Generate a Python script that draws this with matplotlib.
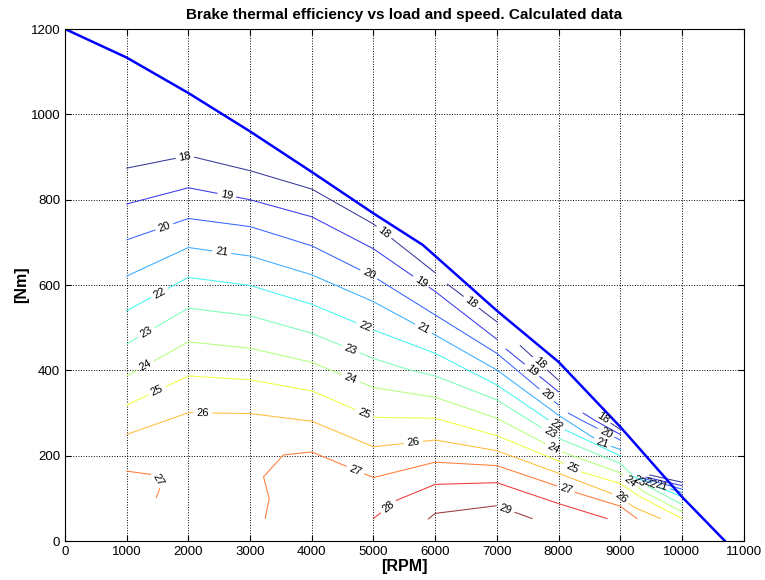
import numpy as np
import matplotlib
matplotlib.use('Agg')
import matplotlib.pyplot as plt

plt.rcParams['font.family'] = ['Liberation Sans', 'DejaVu Sans']

# full load torque curve
limit_rpm = [0, 1000, 2000, 3000, 4000, 5000, 5800, 7000, 8000, 9000, 10000, 10700]
limit_nm = [1200, 1133, 1050, 960, 865, 768, 694, 540, 420, 268, 104, 0]

# efficiency iso-lines, (rpm, Nm), one list per piece
eff_18 = [[(1000, 874), (2000, 903), (3000, 868), (4000, 825), (5000, 743), (6000, 629)],
          [(6200, 602), (7000, 514)],
          [(7380, 458), (8000, 377)],
          [(8600, 300), (9000, 262)],
          [(9480, 155), (10000, 138)]]
eff_19 = [[(1000, 790), (2000, 828), (3000, 800), (4000, 760), (5000, 685), (6000, 585), (7000, 473)],
          [(7150, 450), (8000, 350)],
          [(8400, 300), (8600, 282), (9000, 250)],
          [(9420, 150), (10000, 130)]]
eff_20 = [[(1000, 706), (2000, 756), (3000, 737), (4000, 692), (5000, 620), (6000, 530), (7000, 440), (8000, 319)],
          [(8160, 300), (8350, 285), (9000, 237)],
          [(9350, 148), (10000, 122)]]
eff_21 = [[(1000, 621), (2000, 688), (3000, 668), (4000, 624), (5000, 561), (6000, 483), (7000, 401), (8000, 295),
           (8700, 230), (9000, 215)],
          [(9300, 146), (10000, 114)]]
eff_22 = [[(1000, 540), (2000, 618), (3000, 599), (4000, 555), (5000, 495), (6000, 440), (7000, 366), (8000, 268),
           (9000, 200)],
          [(9200, 152), (10000, 104)]]
eff_23 = [[(1000, 462), (2000, 546), (3000, 528), (4000, 487), (5000, 428), (5590, 401), (6000, 387), (7000, 331),
           (8000, 241), (9000, 182), (9300, 140), (10000, 86)]]
eff_24 = [[(1000, 387), (2000, 467), (3000, 452), (4000, 419), (5000, 360), (6000, 337), (7000, 288), (8000, 212),
           (9000, 160), (9380, 116), (10000, 69)]]
eff_25 = [[(1000, 319), (2000, 387), (3000, 378), (4000, 352), (5000, 290), (6000, 288), (7000, 247), (8000, 188),
           (8350, 163), (9000, 135), (9324, 104), (10000, 53)]]
eff_26 = [[(1000, 250), (2000, 301), (3000, 299), (4000, 281), (5000, 221), (6000, 237), (7000, 212), (8000, 159),
           (9000, 104), (9215, 80), (9650, 53)]]
eff_27 = [[(1000, 164), (1460, 155), (1555, 131), (1480, 102)],
          [(3245, 53), (3310, 100), (3218, 151), (3542, 202), (4000, 209), (5000, 149), (6000, 185), (7000, 177),
           (8000, 128), (8300, 113), (9000, 82), (9270, 53)]]
eff_28 = [[(5000, 53), (5380, 96), (6000, 133), (7000, 137), (8000, 88), (8785, 53)]]
eff_29 = [[(5890, 52), (6000, 65), (7000, 83), (7570, 53)]]

levels = list(range(18, 30))
contours = dict(zip(levels, [eff_18, eff_19, eff_20, eff_21, eff_22, eff_23,
                             eff_24, eff_25, eff_26, eff_27, eff_28, eff_29]))

# where the in-line labels sit
labels = {18: [(1950, 897), (5140, 718), (6570, 557), (7675, 413), (8700, 285)],
          19: [(2620, 809), (5730, 600), (7540, 395)],
          20: [(1620, 733), (4920, 624), (7785, 338), (8756, 250)],
          21: [(2540, 676), (5785, 491), (8703, 228), (9650, 125)],
          22: [(1540, 579), (4866, 503), (7945, 268), (9480, 132)],
          23: [(1330, 487), (4620, 446), (7840, 249), (9300, 138)],
          24: [(1330, 405), (4620, 379), (7920, 217), (9150, 138)],
          25: [(1515, 346), (4840, 297), (8217, 170)],
          26: [(2235, 299), (5650, 229), (9000, 100)],
          27: [(1543, 147), (4700, 163), (8108, 117)],
          28: [(5244, 80)],
          29: [(7135, 73)]}

fig = plt.figure(figsize=(7.65, 5.8), dpi=100)
ax = fig.add_axes([0.085, 0.067, 0.887, 0.883])
ax.set_xlim(0, 11000)
ax.set_ylim(0, 1200)
ax.set_xticks(range(0, 11001, 1000))
ax.set_yticks(range(0, 1201, 200))
ax.grid(True, color='k', linestyle=':', linewidth=0.7)
ax.tick_params(direction='in', top=True, right=True, labelsize=9.5, length=4)
for sp in ax.spines.values():
    sp.set_linewidth(0.8)

cmap = plt.get_cmap('jet')


def arclen(p):
    d = np.hypot(*np.diff(p, axis=0).T)
    return np.concatenate([[0], np.cumsum(d)])


def at(p, s, sv):
    return [np.interp(sv, s, p[:, 0]), np.interp(sv, s, p[:, 1])]


def project(p, q):
    best = (np.inf, 0, 0)
    s = arclen(p)
    for i in range(len(p) - 1):
        a, b = p[i], p[i + 1]
        ab = b - a
        t = np.clip(np.dot(q - a, ab) / max(np.dot(ab, ab), 1e-9), 0, 1)
        c = a + t * ab
        dist = np.hypot(*(q - c))
        if dist < best[0]:
            ang = np.degrees(np.arctan2(ab[1], ab[0]))
            best = (dist, s[i] + t * (s[i + 1] - s[i]), ang)
    return best


to_px = ax.transData
to_data = ax.transData.inverted()

for lev in levels:
    # thin matlab lines look paler than pure jet
    col = 0.78 * np.array(cmap((lev - 18) / 11)[:3]) + 0.22
    segs = [to_px.transform(np.array(seg, float)) for seg in contours[lev]]
    for q in labels.get(lev, []):
        qp = to_px.transform(q)
        hits = [project(p, qp) for p in segs]
        k = int(np.argmin([h[0] for h in hits]))
        dist, s0, ang = hits[k]
        p = segs.pop(k)
        s = arclen(p)
        half = 10
        pos = to_data.transform(at(p, s, s0))
        if ang > 90:
            ang -= 180
        if ang < -90:
            ang += 180
        ax.text(pos[0], pos[1], str(lev), rotation=ang, rotation_mode='anchor',
                ha='center', va='center', fontsize=8, color='k')
        for lo, hi in [(0, s0 - half), (s0 + half, s[-1])]:
            if hi - lo <= 1:
                continue
            inner = [pt for sv, pt in zip(s, p) if lo < sv < hi]
            segs.append(np.array([at(p, s, lo)] + inner + [at(p, s, hi)]))
    for p in segs:
        d = to_data.transform(p)
        ax.plot(d[:, 0], d[:, 1], color=col, linewidth=0.75)

ax.plot(limit_rpm, limit_nm, color=(0, 0, 1), linewidth=1.8)

ax.set_title('Brake thermal efficiency vs load and speed. Calculated data',
             fontsize=11, fontweight='bold', pad=7)
ax.set_xlabel('[RPM]', fontsize=11.5, fontweight='bold', labelpad=1)
ax.set_ylabel('[Nm]', fontsize=11.5, fontweight='bold', labelpad=1)

fig.savefig('out.png', dpi=100)
